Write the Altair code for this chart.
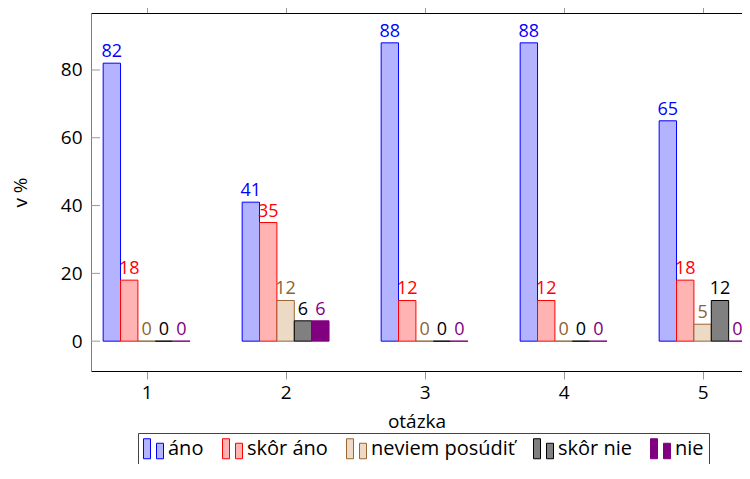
import altair as alt
import pandas as pd

questions = [1, 2, 3, 4, 5]
series = ["áno", "skôr áno", "neviem posúdiť", "skôr nie", "nie"]
ano = [82, 41, 88, 88, 65]
skor_ano = [18, 35, 12, 12, 18]
neviem = [0, 12, 0, 0, 5]
skor_nie = [0, 6, 0, 0, 12]
nie = [0, 6, 0, 0, 0]
values_by_series = [ano, skor_ano, neviem, skor_nie, nie]

fills = ["#b3b3ff", "#ffb3b3", "#ecd9c6", "#808080", "#800080"]
strokes = ["#0000ff", "#ff0000", "#996633", "#000000", "#800080"]
label_colors = ["#0000ff", "#ff0000", "#8c6239", "#000000", "#800080"]
y_ticks = [0, 20, 40, 60, 80]

bar_w = 0.125
W, H = 651, 358
FONT = "Open Sans"

rows = []
for i, (s, vals) in enumerate(zip(series, values_by_series)):
    for q, v in zip(questions, vals):
        rows.append({"question": q, "series": s, "idx": i, "value": v})
df = pd.DataFrame(rows)
ticks_df = pd.DataFrame({"t": y_ticks})

xscale = alt.Scale(domain=[0.6, 0.6 + W / 139.0], nice=False, zero=False)
yscale = alt.Scale(domain=[-8.8, 96.8], nice=False, zero=False)

base = alt.Chart(df).transform_calculate(
    x0=f"datum.question + (datum.idx - 2.5) * {bar_w}",
    x1=f"datum.question + (datum.idx - 1.5) * {bar_w}",
    xc=f"datum.question + (datum.idx - 2) * {bar_w}",
)

legend = alt.Legend(
    title=None,
    orient="none",
    legendX=47,
    legendY=420,
    direction="horizontal",
    strokeColor="#444444",
    padding=5,
    symbolType="M-1,-1H-0.3V1H-1Z M0.3,-0.55H1V1H0.3Z",
    symbolSize=400,
    symbolStrokeWidth=1,
    labelFontSize=20,
    labelFont=FONT,
    labelColor="black",
    labelOffset=4,
    columnPadding=16,
)

yaxis = alt.Axis(
    orient="left", values=y_ticks, ticks=False, labelPadding=9,
    labelFontSize=19, labelFont=FONT, labelColor="black",
    domainColor="#808080", grid=False, title="v %", titleFontSize=19,
    titleFont=FONT, titleFontWeight="normal", titleColor="black",
    titleX=-71, titleY=179, titleAngle=270, titleBaseline="middle",
    titleAlign="center")

bars = base.mark_bar(strokeWidth=1, fillOpacity=1).encode(
    x=alt.X("x0:Q", scale=xscale, axis=alt.Axis(
        orient="bottom", values=questions, format="d", tickSize=8,
        tickColor="#999999", domainColor="black", labelFontSize=19,
        labelColor="black", labelFont=FONT, labelPadding=4, grid=False,
        title="otázka", titleFontSize=19, titleFontWeight="normal",
        titleFont=FONT, titleColor="black", titleY=56, titleBaseline="alphabetic")),
    x2="x1:Q",
    y=alt.Y("value:Q", scale=yscale, axis=yaxis),
    y2=alt.datum(0),
    fill=alt.Fill("series:N", scale=alt.Scale(domain=series, range=fills), legend=legend),
    stroke=alt.Stroke("series:N", scale=alt.Scale(domain=series, range=strokes), legend=legend),
)

labels = base.mark_text(baseline="bottom", dy=-2, fontSize=18, font=FONT).encode(
    x=alt.X("xc:Q", scale=xscale, axis=alt.Axis(
        orient="top", values=questions, labels=False, tickSize=8,
        tickColor="#999999", domainColor="black", grid=False, title=None)),
    y=alt.Y("value:Q", scale=yscale, axis=yaxis),
    text=alt.Text("value:Q"),
    color=alt.Color("series:N", scale=alt.Scale(domain=series, range=label_colors), legend=None),
)

left_ticks = alt.Chart(ticks_df).mark_rule(color="#999999", strokeWidth=1).encode(
    y=alt.Y("t:Q", scale=yscale, axis=yaxis),
    x=alt.value(0),
    x2=alt.value(9),
)

chart = alt.layer(bars, labels, left_ticks).properties(
    width=W,
    height=H,
    autosize=alt.AutoSizeParams(type="none"),
    padding={"left": 83, "top": 5, "right": 0, "bottom": 93},
).configure_view(strokeWidth=0).configure(font=FONT)

chart.save("out.html", embed_options={"renderer": "svg", "actions": False})
